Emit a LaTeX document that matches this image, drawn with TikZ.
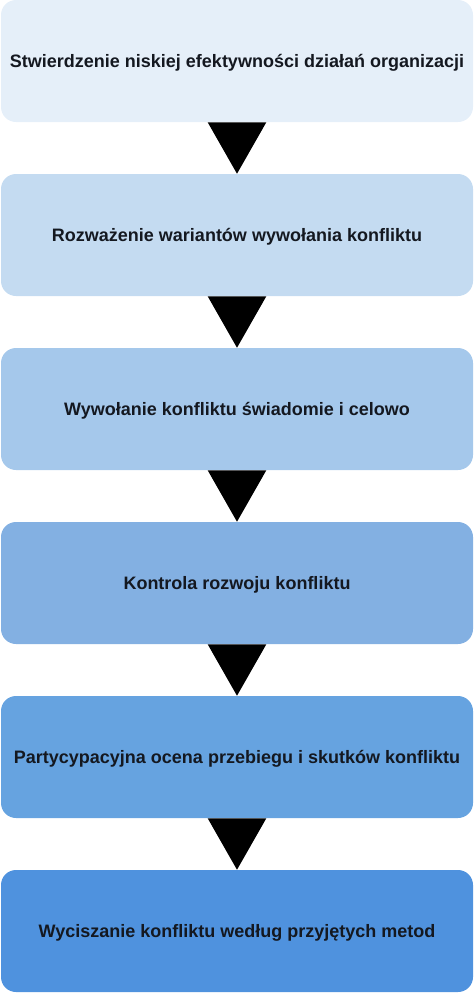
\documentclass[tikz,border=0pt]{standalone}
\usepackage{fontspec}
\setmainfont{Liberation Sans}
\definecolor{c1}{HTML}{E5EFF9}
\definecolor{c2}{HTML}{C4DBF1}
\definecolor{c3}{HTML}{A5C8EB}
\definecolor{c4}{HTML}{83B0E2}
\definecolor{c5}{HTML}{66A3E0}
\definecolor{c6}{HTML}{4F92DE}
\definecolor{txt}{HTML}{141820}
\begin{document}
\begin{tikzpicture}[x=0.75pt,y=-0.75pt,
  stepbox/.style={rectangle, rounded corners=11.25pt, minimum width=354pt, minimum height=91.5pt,
    inner sep=0pt, text height=9.7pt, text depth=0pt, text=txt, font=\fontsize{13.5pt}{16pt}\selectfont\bfseries},
  tri/.style={fill=black}]
\useasboundingbox (0,0) rectangle (474,993);
\node[stepbox, fill=c1] (b1) at (237,61) {Stwierdzenie niskiej efektywności działań organizacji};
\node[stepbox, fill=c2] (b2) at (237,235) {Rozważenie wariantów wywołania konfliktu};
\node[stepbox, fill=c3] (b3) at (237,409) {Wywołanie konfliktu świadomie i celowo};
\node[stepbox, fill=c4] (b4) at (237,583) {Kontrola rozwoju konfliktu};
\node[stepbox, fill=c5] (b5) at (237,757) {Partycypacyjna ocena przebiegu i skutków konfliktu};
\node[stepbox, fill=c6] (b6) at (237,931) {Wyciszanie konfliktu według przyjętych metod};
\foreach \a/\b in {b1/b2,b2/b3,b3/b4,b4/b5,b5/b6}{
  \fill[tri] ([xshift=-22pt]\a.south) -- ([xshift=22pt]\a.south) -- (\b.north) -- cycle;
}
\end{tikzpicture}
\end{document}
